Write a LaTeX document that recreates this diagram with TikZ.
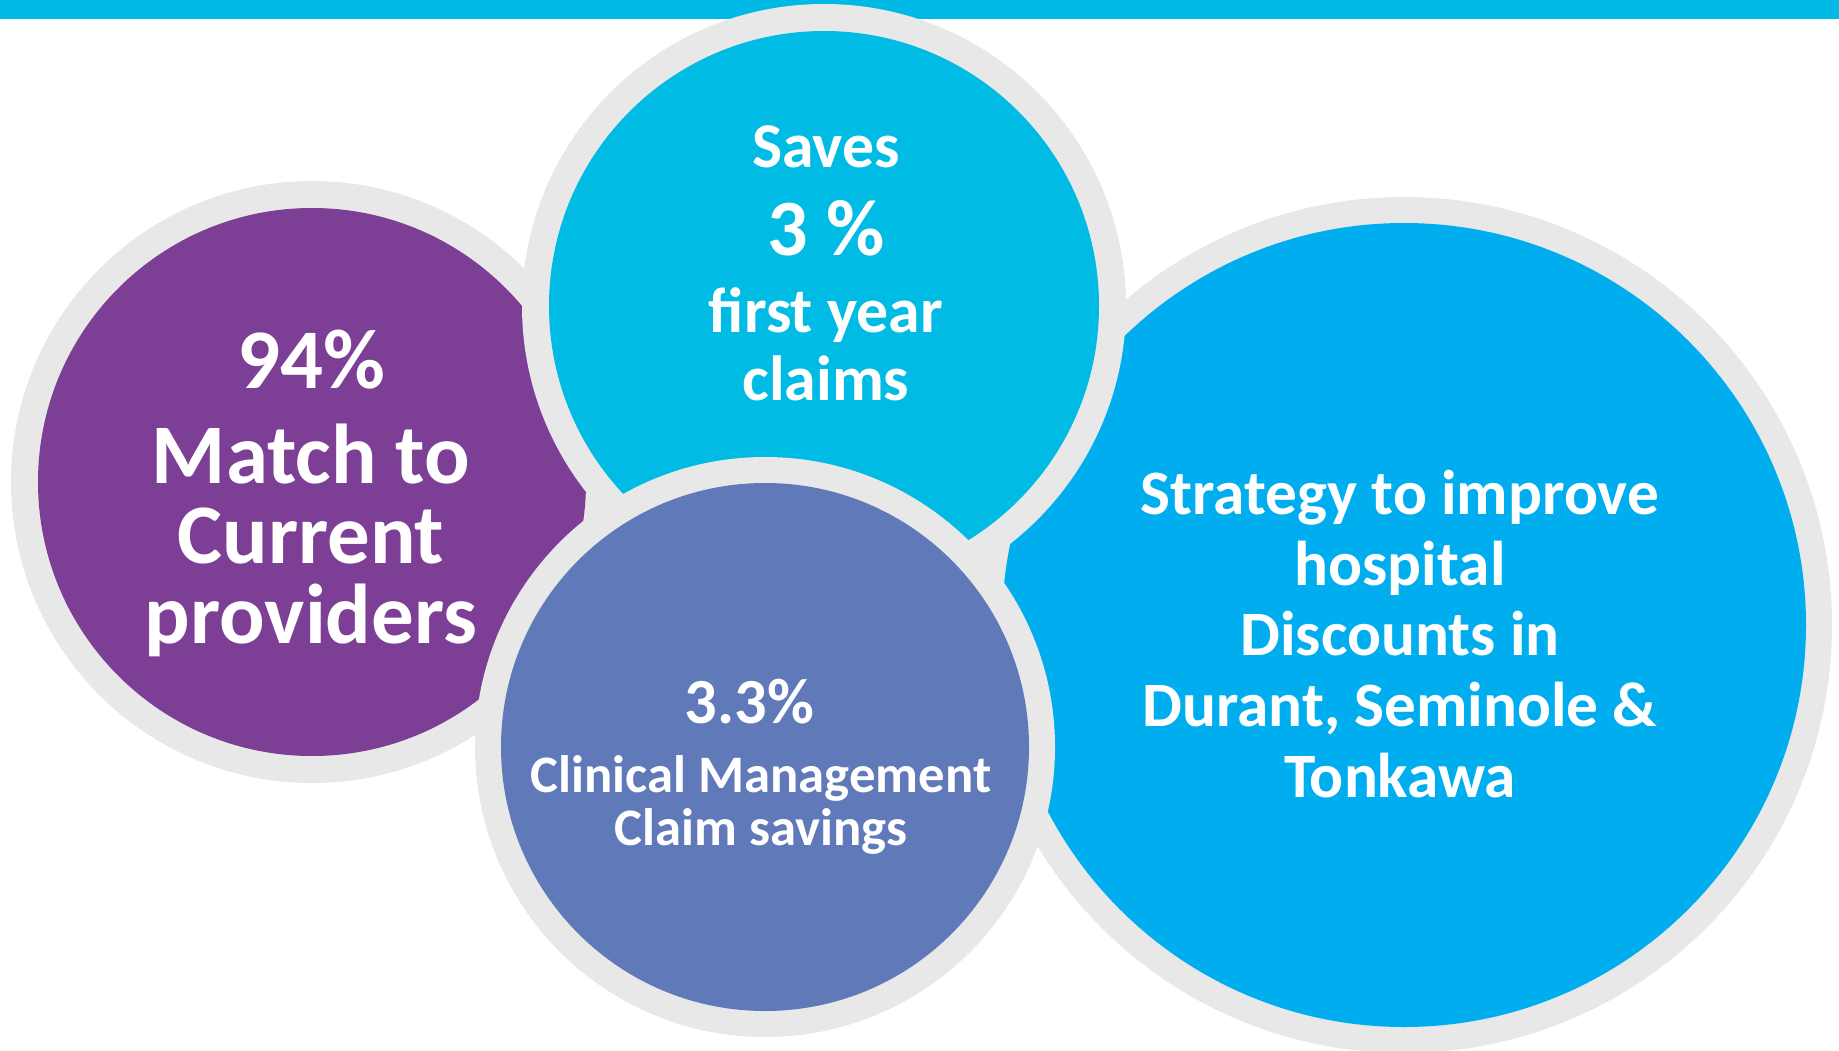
\documentclass[tikz,border=0pt]{standalone}
\usepackage{fontspec}
\setmainfont{Carlito}
\usepackage{xcolor}
\usepackage{tikz}
\definecolor{barblue}{HTML}{00B9E4}
\definecolor{ringgray}{HTML}{E8E8E8}
\definecolor{plum}{HTML}{7D3F96}
\definecolor{skyblue}{HTML}{00BBE3}
\definecolor{deepsky}{HTML}{00AEEF}
\definecolor{slateblue}{HTML}{5F79B9}
\newcommand{\txtsize}[2]{\fontsize{#1}{#2}\selectfont}

\begin{document}
\begin{tikzpicture}[x=0.02cm,y=-0.02cm,
  ring/.style={fill=ringgray},
  blurb/.style={text=white,align=center,anchor=base,inner sep=0pt}]
\useasboundingbox (0,0) rectangle (1839,1051);
\fill[barblue] (0,0) rectangle (1839,19);
\fill[ring] (1404,625) circle [radius=428];
\fill[deepsky] (1404,625) circle [radius=402];
\fill[ring] (312,482) circle [radius=301];
\fill[plum] (312,482) circle [radius=274];
\fill[ring] (824,306) circle [radius=302];
\fill[skyblue] (824,306) circle [radius=275];
\fill[ring] (765,747) circle [radius=290];
\fill[slateblue] (765,747) circle [radius=264];
\node at (311,643) (match) [blurb,font=\bfseries\txtsize{48.3}{45.4}] {94\%\\[8.5pt]Match to\\Current\\providers};
\node at (826,400) (saves) [blurb,font=\bfseries\txtsize{36.3}{38.6}] {Saves\\[11.3pt]{\txtsize{45.5}{38.6}3 \%}\\[5.1pt]first year\\claims};
\node at (1400,797) (strategy) [blurb,font=\bfseries\txtsize{36}{40.2}] {Strategy to improve\\hospital\\Discounts in\\Durant, Seminole \&\\Tonkawa};
\node at (761,845) (clinical) [blurb,font=\bfseries\txtsize{30}{30}] {{\txtsize{36.6}{30}3.3\%\kern13pt}\\[9.1pt]Clinical Management\\Claim savings};
\end{tikzpicture}
\end{document}
